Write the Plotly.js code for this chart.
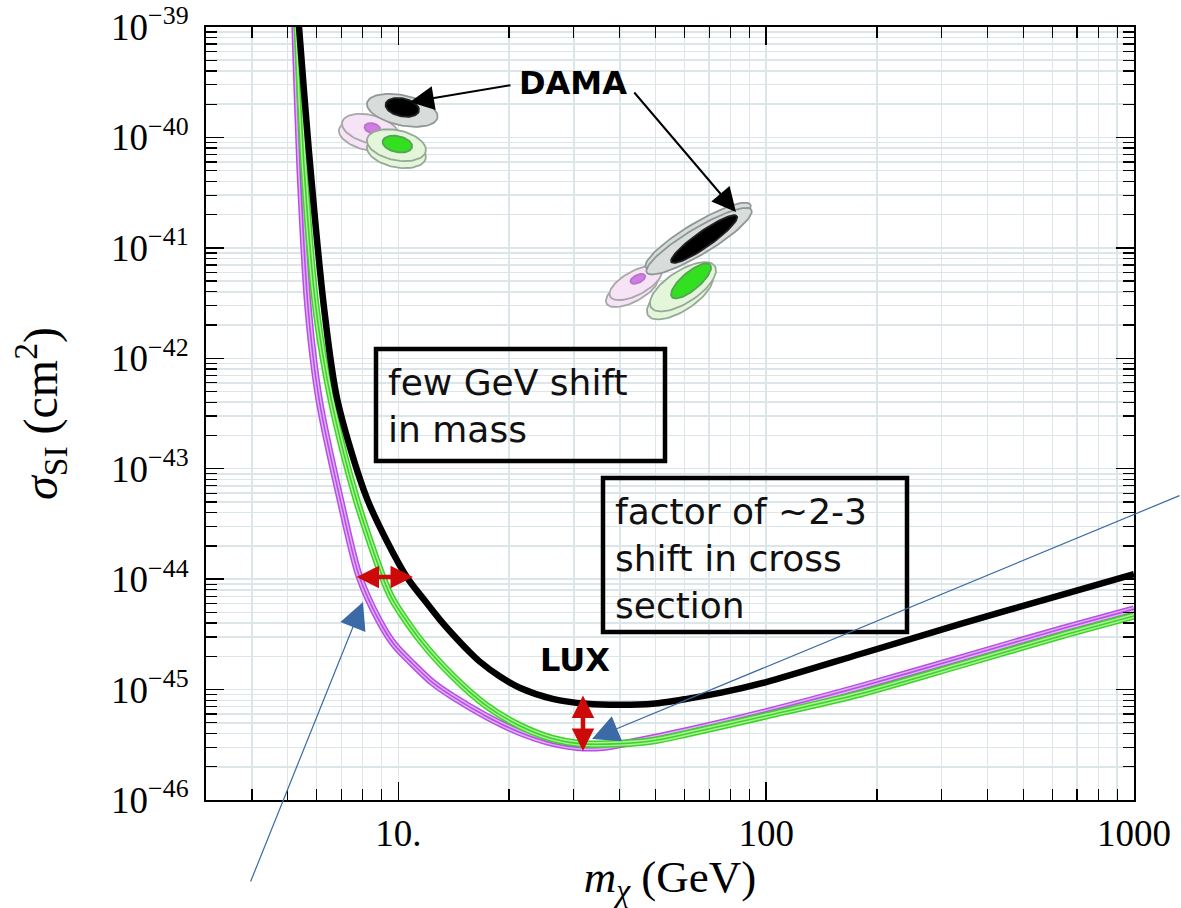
<!DOCTYPE html>
<html><head><meta charset="utf-8">
<script src="https://cdn.plot.ly/plotly-3.0.1.min.js"></script>
<style>html,body{margin:0;padding:0;background:#fff}</style>
</head><body><div id="chart" style="width:1181px;height:908px"></div>
<script>
// ---------- data ----------
const luxMass  = [5.25, 5.37, 5.71, 6.29, 6.82, 8.24, 10.51, 11.77, 12.93, 14.03, 15.62, 16.62, 18.85, 21.37, 26.28, 32.53, 40.02, 49.22, 60.92, 74.94, 100, 180.4, 337.9, 632.5, 1000];
const luxSigma = [2.6e-39, 1.0e-39, 7.66e-41, 2.75e-42, 4.27e-43, 5.25e-44, 1.06e-44, 6.46e-45, 4.35e-45, 3.19e-45, 2.19e-45, 1.80e-45, 1.32e-45, 1.04e-45, 8.24e-46, 7.43e-46, 7.28e-46, 7.43e-46, 8.24e-46, 9.33e-46, 1.17e-45, 2.10e-45, 3.93e-45, 7.18e-45, 1.11e-44];

const purpleMass  = [5.15, 5.24, 5.41, 5.69, 6.09, 6.95, 7.83, 8.87, 9.75, 10.92, 12.38, 14.03, 17.37, 21.37, 26.28, 30.55, 35.97, 44.52, 60.92, 100, 180.4, 337.9, 632.5, 1000];
const purpleSigma = [4e-39, 1.0e-39, 5.06e-41, 2.75e-42, 4.23e-43, 5.28e-44, 1.06e-44, 4.2e-45, 2.55e-45, 1.72e-45, 1.16e-45, 8.67e-46, 5.71e-46, 4.10e-46, 3.27e-46, 3.01e-46, 3.01e-46, 3.41e-46, 4.24e-46, 6.29e-46, 1.06e-45, 1.93e-45, 3.53e-45, 5.36e-45];

const greenMass  = [5.2, 5.31, 5.55, 5.98, 6.57, 7.69, 9.05, 9.63, 11.41, 14.03, 17.37, 21.37, 26.28, 31.13, 40.02, 49.22, 60.92, 100, 180.4, 337.9, 632.5, 1000];
const greenSigma = [3e-39, 1.0e-39, 5.06e-41, 2.75e-42, 4.23e-43, 5.28e-44, 1.06e-44, 6.59e-45, 2.87e-45, 1.33e-45, 7.13e-46, 4.71e-46, 3.59e-46, 3.24e-46, 3.24e-46, 3.44e-46, 3.98e-46, 5.79e-46, 9.16e-46, 1.67e-45, 3.06e-45, 4.64e-45];

// DAMA regions: centres (mass GeV, sigma cm^2)
const damaMass  = [8.23, 8.39, 8.50, 10.25, 10.25, 9.88, 9.88, 9.94,
                   43.2, 44.2, 44.8, 65.3, 65.7, 67.8, 58.3, 59.4, 62.5];
const damaSigma = [1.03e-40, 1.19e-40, 1.21e-40, 1.76e-40, 1.87e-40, 7.35e-41, 8.5e-41, 8.7e-41,
                   4.17e-42, 4.82e-42, 5.24e-42, 1.28e-41, 1.15e-41, 1.20e-41, 3.76e-42, 4.44e-42, 5.02e-42];
const damaKind  = ['pink','pink','pinkCore','gray','black','green','green','greenCore',
                   'pink','pink','pinkCore','gray','gray','black','green','green','greenCore'];

const xTickVals = [10, 100, 1000];
const xTickText = ['10.', '100', '1000'];
const yTickVals = [1e-46, 1e-45, 1e-44, 1e-43, 1e-42, 1e-41, 1e-40, 1e-39];
const yTickText = ['10<sup>−46</sup>','10<sup>−45</sup>','10<sup>−44</sup>','10<sup>−43</sup>','10<sup>−42</sup>','10<sup>−41</sup>','10<sup>−40</sup>','10<sup>−39</sup>'];

// ---------- geometry / styles ----------
const W = 1181, H = 908;
const M = {l: 206, r: 47, t: 27, b: 108};
const XR = [Math.log10(3), 3], YR = [-46, -39];
const pxPerDecX = (W - M.l - M.r) / (XR[1] - XR[0]);
const pxPerDecY = (H - M.t - M.b) / (YR[1] - YR[0]);
// ellipse size (semi axes in px) and tilt, per region index
const damaShape = [
  [29,14,-14],[29,14,-14],[8,5,-14],[36,15,-12],[17,9,-12],[30,15,-12],[30,15,-12],[15,8,-12],
  [29,12,28],[29,12,28],[8,4,25],[61,13,31],[61,13,31],[40,8,35],[38,16,33],[38,16,33],[25,9,40]
];
const kindStyle = {
  pink:      {fill: '#f6e3f6', line: '#a8a8a8'},
  pinkCore:  {fill: '#d47ae8', line: '#b478c4'},
  gray:      {fill: '#d8dddc', line: '#8f9897'},
  black:     {fill: '#000000', line: '#222222'},
  green:     {fill: '#e3f6d9', line: '#98a898'},
  greenCore: {fill: '#33e020', line: '#58a058'}
};
function ellipse(m, s, a, b, ang) {
  const th = ang * Math.PI / 180, xs = [], ys = [];
  for (let i = 0; i <= 80; i++) {
    const t = 2 * Math.PI * i / 80;
    const dx = a * Math.cos(t) * Math.cos(th) - b * Math.sin(t) * Math.sin(th);
    const dy = a * Math.cos(t) * Math.sin(th) + b * Math.sin(t) * Math.cos(th);
    xs.push(Math.pow(10, Math.log10(m) + dx / pxPerDecX));
    ys.push(Math.pow(10, Math.log10(s) + dy / pxPerDecY));
  }
  return {xs, ys};
}
const traces = [];
damaMass.forEach((m, i) => {
  const sh = damaShape[i];
  const e = ellipse(m, damaSigma[i], sh[0], sh[1], sh[2]);
  const st = kindStyle[damaKind[i]];
  traces.push({x: e.xs, y: e.ys, mode: 'lines', fill: 'toself', fillcolor: st.fill,
    line: {color: st.line, width: 1.8}, hoverinfo: 'skip', showlegend: false});
});
function band(xs, ys, c, light) {
  [[7.5, c], [4.5, light], [1.6, c]].forEach(([w, col]) => {
    traces.push({x: xs, y: ys, mode: 'lines', line: {color: col, width: w, shape: 'spline', smoothing: 0.8},
      hoverinfo: 'skip', showlegend: false});
  });
}
band(purpleMass, purpleSigma, '#b84ee8', '#dfb2f3');
band(greenMass, greenSigma, '#3ad424', '#aef09e');
traces.push({x: luxMass, y: luxSigma, mode: 'lines', name: 'LUX',
  line: {color: '#000', width: 6.5, shape: 'spline', smoothing: 0.8}, showlegend: false});

// ---------- annotations ----------
const px = x => (x - M.l) / (W - M.l - M.r);
const py = y => (H - M.b - y) / (H - M.t - M.b);
const boxFont = {family: 'DejaVu Sans', size: 36, color: '#111'};
const labFont = {family: 'DejaVu Sans', size: 32, color: '#000'};
const redArrow = {showarrow: true, text: '', arrowside: 'end+start', arrowhead: 2, startarrowhead: 2,
  arrowsize: 1.0, startarrowsize: 1.0, arrowwidth: 4.5, arrowcolor: '#cc0a0a', xref: 'paper', yref: 'paper'};
const annotations = [
  {xref: 'paper', yref: 'paper', x: px(573), y: py(83), text: '<b>DAMA</b>', showarrow: false,
   font: labFont, xanchor: 'center', yanchor: 'middle'},
  {xref: 'paper', yref: 'paper', x: px(410), y: py(102), ax: 102, ay: -17, text: '', showarrow: true,
   arrowhead: 2, arrowsize: 2.4, arrowwidth: 2, arrowcolor: '#000'},
  {xref: 'paper', yref: 'paper', x: px(736), y: py(212), ax: -103, ay: -121, text: '', showarrow: true,
   arrowhead: 2, arrowsize: 2.4, arrowwidth: 2, arrowcolor: '#000'},
  {xref: 'paper', yref: 'paper', x: px(575), y: py(660), text: '<b>LUX</b>', showarrow: false,
   font: labFont, xanchor: 'center', yanchor: 'middle'},
  {xref: 'paper', yref: 'paper', x: px(386), y: py(406), text: 'few GeV shift<br>in mass', showarrow: false,
   font: boxFont, xanchor: 'left', yanchor: 'middle', align: 'left'},
  {xref: 'paper', yref: 'paper', x: px(613), y: py(558), text: 'factor of ~2-3<br>shift in cross<br>section', showarrow: false,
   font: boxFont, xanchor: 'left', yanchor: 'middle', align: 'left'},
  // red double arrows
  Object.assign({x: px(413), y: py(577), ax: -58, ay: 0}, redArrow),
  Object.assign({x: px(583), y: py(751), ax: 0, ay: -57}, redArrow),
  // blue pointers
  {xref: 'paper', yref: 'paper', x: px(363), y: py(602), ax: -113, ay: 281, text: '', showarrow: true,
   arrowhead: 2, arrowsize: 4.5, arrowwidth: 1.2, arrowcolor: '#3b6aa6'},
  {xref: 'paper', yref: 'paper', x: px(592), y: py(739), ax: 589, ay: -244, text: '', showarrow: true,
   arrowhead: 2, arrowsize: 4.5, arrowwidth: 1.2, arrowcolor: '#3b6aa6'}
];
const shapes = [
  {type: 'rect', xref: 'paper', yref: 'paper', x0: px(376), x1: px(665), y0: py(461), y1: py(349),
   line: {color: '#000', width: 4.5}, fillcolor: 'rgba(255,255,255,0)'},
  {type: 'rect', xref: 'paper', yref: 'paper', x0: px(603), x1: px(907), y0: py(632), y1: py(478),
   line: {color: '#000', width: 4.5}, fillcolor: 'rgba(255,255,255,0)'}
];

const gridC = '#dce5e8';
const tickFont = {family: 'Liberation Serif', size: 37, color: '#000'};
const layout = {
  width: W, height: H, margin: M, paper_bgcolor: '#fff', plot_bgcolor: '#fff', showlegend: false,
  xaxis: {type: 'log', range: XR, tickvals: xTickVals, ticktext: xTickText, tickfont: tickFont,
    ticks: 'inside', ticklen: 18, tickwidth: 1.5, tickcolor: '#000', ticklabelstandoff: 0,
    showline: true, linecolor: '#000', linewidth: 2, mirror: 'allticks',
    showgrid: true, gridcolor: gridC, gridwidth: 1.5, zeroline: false,
    minor: {dtick: 'D1', ticks: 'inside', ticklen: 11, tickwidth: 1.3, tickcolor: '#000', showgrid: true, gridcolor: gridC, gridwidth: 1.5},
    title: {text: '<i>m</i><sub><i>χ</i></sub> (GeV)', font: {family: 'Liberation Serif', size: 45, color: '#000'}, standoff: 14}},
  yaxis: {type: 'log', range: YR, tickvals: yTickVals, ticktext: yTickText, tickfont: tickFont,
    ticks: 'inside', ticklen: 18, tickwidth: 1.5, tickcolor: '#000', ticklabelstandoff: 8,
    showline: true, linecolor: '#000', linewidth: 2, mirror: 'allticks',
    showgrid: true, gridcolor: gridC, gridwidth: 1.5, zeroline: false,
    minor: {dtick: 'D1', ticks: 'inside', ticklen: 11, tickwidth: 1.3, tickcolor: '#000', showgrid: true, gridcolor: gridC, gridwidth: 1.5},
    title: {text: '<i>σ</i><sub>SI</sub> (cm<sup>2</sup>)', font: {family: 'Liberation Serif', size: 48, color: '#000'}, standoff: 38}},
  annotations: annotations, shapes: shapes
};
Plotly.newPlot('chart', traces, layout, {staticPlot: true, displayModeBar: false});
</script></body></html>
